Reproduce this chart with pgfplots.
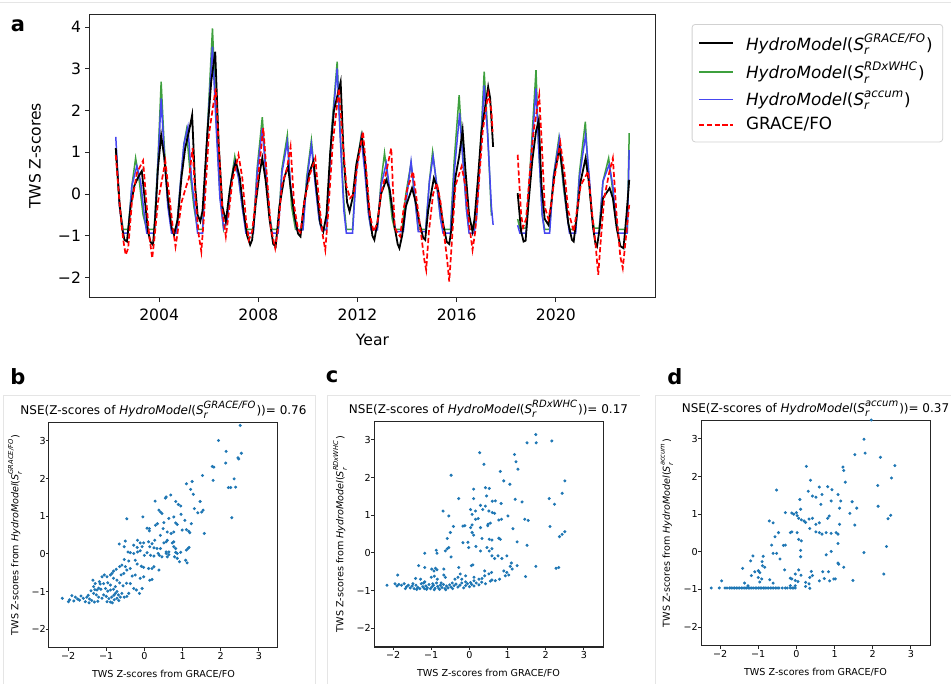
\documentclass[border=0pt]{standalone}
\usepackage{fontspec}
\setmainfont{DejaVu Sans}
\usepackage{pgfplots}
\pgfplotsset{compat=1.18}
\definecolor{mblack}{RGB}{0,0,0}
\definecolor{mgreen}{RGB}{62,160,62}
\definecolor{mblue}{RGB}{70,70,240}
\definecolor{mred}{RGB}{255,0,0}
\definecolor{c0}{RGB}{31,119,180}
\newcommand{\hm}[1]{\textit{HydroModel}(\textit{S}\rlap{\raisebox{-0.15em}{\textsubscript{\textit{r}}}}\raisebox{0.12em}{\textsuperscript{\textit{#1}}})}
\newcommand{\fs}[1]{\fontsize{#1}{#1}\selectfont}

\pgfplotsset{
  mpl/.style={scale only axis, anchor=north west,
    axis line style={black!85, line width=0.5pt},
    tick style={black!85, line width=0.45pt},
    tick align=outside, xtick pos=bottom, ytick pos=left},
  scat/.style={mpl, width=114.5pt, height=113pt,
    xmin=-2.5, xmax=3.5, ymin=-2.5, ymax=3.5,
    xtick={-2,-1,0,1,2,3}, xticklabels={−2,−1,0,1,2,3},
    ytick={-2,-1,0,1,2,3}, yticklabels={−2,−1,0,1,2,3},
    major tick length=1.6pt,
    ticklabel style={font=\fs{4.8}},
    xticklabel style={yshift=2.8pt},
    yticklabel style={xshift=3.5pt},
    label style={font=\fs{4.8}},
    xlabel={TWS Z-scores from GRACE/FO},
    xlabel style={at={(axis description cs:0.5,0)}, anchor=center, yshift=-13pt},
    ylabel style={at={(axis description cs:0,0.5)}, anchor=center, yshift=17pt},
    title style={font=\fs{6}, at={(axis description cs:0.5,1)}, anchor=base, yshift=-2.3pt}},
  dots/.style={only marks, mark=*, mark size=0.55pt, color=c0, mark options={draw=none, fill=c0}},
}

\begin{document}
\begin{tikzpicture}
\path[use as bounding box] (0,0) rectangle (475.5pt,-342pt);

% faint panel frames
\draw[black!10, line width=0.5pt] (0pt,-1.5pt) -- (475.5pt,-1.5pt);
\draw[black!10, line width=0.5pt] (1.5pt,-342pt) -- (1.5pt,-197.5pt) -- (157.5pt,-197.5pt) -- (157.5pt,-342pt);
\draw[black!10, line width=0.5pt] (163.5pt,-342pt) -- (163.5pt,-197.5pt) -- (320pt,-197.5pt);
\draw[black!10, line width=0.5pt] (327.5pt,-342pt) -- (327.5pt,-197.5pt) -- (475.5pt,-197.5pt);

% ---------------- panel a ----------------
\begin{axis}[mpl, at={(45pt,-7.5pt)}, width=282.5pt, height=141pt,
  xmin=2001.21, xmax=2024.0, ymin=-2.47, ymax=4.29,
  xtick={2004,2008,2012,2016,2020}, xticklabels={2004,2008,2012,2016,2020},
  ytick={-2,-1,0,1,2,3,4}, yticklabels={−2,−1,0,1,2,3,4},
  major tick length=2.5pt,
  ticklabel style={font=\fs{7.8}},
  yticklabel style={xshift=1.5pt},
  label style={font=\fs{7.8}},
  xlabel={Year}, ylabel={TWS Z-scores},
  xlabel style={at={(axis description cs:0.5,0)}, anchor=center, yshift=-21.5pt},
  ylabel style={at={(axis description cs:0,0.5)}, anchor=center, yshift=27.5pt},
  unbounded coords=jump,
  legend cell align=left,
  legend style={at={(1.065,0.968)}, anchor=north west, draw=black!18,
    rounded corners=1.5pt, font=\fs{8.4}, row sep=0.6pt, inner xsep=3pt, inner ysep=2.6pt},
]
\addlegendimage{mblack, line width=0.9pt}
\addlegendentry{\hspace*{4pt}\hm{GRACE/FO}}
\addlegendimage{mgreen, line width=0.75pt}
\addlegendentry{\hspace*{4pt}\hm{RDxWHC}}
\addlegendimage{mblue, line width=0.75pt}
\addlegendentry{\hspace*{4pt}\hm{accum}}
\addlegendimage{mred, line width=0.85pt, dash pattern=on 2.6pt off 1.3pt}
\addlegendentry{\hspace*{4pt}GRACE/FO}

% HydroModel(Sr^RDxWHC)
\addplot[mgreen, line width=0.75pt, forget plot] coordinates {
(2002.25,1.05) (2002.4,-0.3) (2002.55,-0.85) (2002.75,-0.85) (2002.9,0.2) (2003.05,0.86)
(2003.2,0.3) (2003.35,-0.5) (2003.5,-0.85) (2003.8,-0.85) (2003.95,0.8) (2004.08,2.69)
(2004.2,1.2) (2004.35,-0.2) (2004.5,-0.85) (2004.7,-0.85) (2004.85,0.2) (2005.0,1.2)
(2005.1,1.53) (2005.25,0.5) (2005.4,-0.3) (2005.55,-0.85) (2005.75,-0.85) (2005.9,1.0)
(2006.15,3.97) (2006.3,1.8) (2006.45,0.0) (2006.6,-0.85) (2006.75,-0.6) (2006.9,0.3)
(2007.05,0.90) (2007.2,0.4) (2007.35,-0.3) (2007.5,-0.85) (2007.8,-0.85) (2007.95,0.6)
(2008.16,1.84) (2008.3,0.6) (2008.45,-0.5) (2008.55,-0.85) (2008.8,-0.85) (2008.95,0.6)
(2009.17,1.41) (2009.34,-0.3) (2009.5,-0.85) (2009.8,-0.85) (2009.95,0.4) (2010.14,1.29)
(2010.3,0.3) (2010.45,-0.6) (2010.55,-0.85) (2010.75,-0.85) (2010.95,1.5) (2011.18,3.17)
(2011.3,1.5) (2011.45,-0.2) (2011.55,-0.85) (2011.8,-0.85) (2011.95,0.6) (2012.15,1.40)
(2012.3,0.6) (2012.45,-0.5) (2012.55,-0.85) (2012.8,-0.85) (2012.95,0.3) (2013.09,0.98)
(2013.25,0.2) (2013.4,-0.6) (2013.5,-0.85) (2013.8,-0.85) (2013.95,0.0) (2014.16,0.74)
(2014.3,0.0) (2014.45,-0.85) (2014.75,-0.85) (2014.9,0.3) (2015.03,1.01) (2015.2,0.2)
(2015.35,-0.6) (2015.45,-0.85) (2015.75,-0.85) (2015.9,0.8) (2016.1,2.37) (2016.25,0.9)
(2016.4,-0.4) (2016.5,-0.85) (2016.7,-0.85) (2016.8,-0.5) (2016.95,1.0) (2017.11,2.93)
(2017.25,1.5) (2017.4,-0.5) (2017.45,-0.5) (2017.9,nan)
(2018.46,-0.6) (2018.55,-0.82) (2018.8,-0.82) (2018.95,0.5) (2019.2,2.97) (2019.3,1.2)
(2019.45,-0.5) (2019.55,-0.85) (2019.75,-0.85) (2019.9,0.4) (2020.12,1.33) (2020.3,0.2)
(2020.45,-0.5) (2020.55,-0.85) (2020.8,-0.85) (2020.95,0.5) (2021.19,1.73) (2021.3,0.6)
(2021.45,-0.5) (2021.55,-0.82) (2021.75,-0.82) (2021.9,0.3) (2022.13,0.86) (2022.25,0.3)
(2022.4,-0.5) (2022.5,-0.85) (2022.88,-0.85) (2022.96,1.46)
};
% HydroModel(Sr^accum)
\addplot[mblue, line width=0.75pt, forget plot] coordinates {
(2002.25,1.37) (2002.4,-0.3) (2002.55,-0.94) (2002.75,-0.94) (2002.9,0.2) (2003.1,0.67)
(2003.25,0.3) (2003.4,-0.5) (2003.5,-0.94) (2003.8,-0.94) (2003.95,0.7) (2004.08,2.29)
(2004.2,1.0) (2004.35,-0.3) (2004.5,-0.94) (2004.7,-0.94) (2004.85,0.2) (2005.0,1.2)
(2005.16,1.61) (2005.3,0.4) (2005.45,-0.4) (2005.55,-0.94) (2005.75,-0.94) (2005.9,1.0)
(2006.15,3.53) (2006.3,1.6) (2006.45,-0.1) (2006.6,-0.82) (2006.75,-0.6) (2006.9,0.3)
(2007.05,0.75) (2007.2,0.4) (2007.35,-0.3) (2007.5,-0.94) (2007.8,-0.94) (2007.95,0.5)
(2008.16,1.58) (2008.3,0.5) (2008.45,-0.5) (2008.55,-0.94) (2008.8,-0.94) (2008.95,0.5)
(2009.17,1.25) (2009.3,0.2) (2009.45,-0.5) (2009.55,-0.86) (2009.8,-0.86) (2009.95,0.3)
(2010.14,1.17) (2010.3,0.2) (2010.45,-0.6) (2010.55,-0.86) (2010.75,-0.86) (2010.95,1.4)
(2011.18,3.01) (2011.3,1.4) (2011.45,-0.4) (2011.55,-0.94) (2011.8,-0.94) (2011.95,0.5)
(2012.15,1.35) (2012.3,0.5) (2012.45,-0.5) (2012.55,-0.86) (2012.8,-0.86) (2012.95,0.2)
(2013.16,0.74) (2013.3,0.1) (2013.45,-0.6) (2013.55,-0.9) (2013.85,-0.9) (2014.0,0.0)
(2014.16,0.78) (2014.3,0.0) (2014.45,-0.9) (2014.75,-0.9) (2014.9,0.3) (2015.05,0.9)
(2015.2,0.2) (2015.35,-0.6) (2015.45,-0.94) (2015.75,-0.94) (2015.9,0.5) (2016.12,1.94)
(2016.25,0.8) (2016.4,-0.4) (2016.5,-0.94) (2016.7,-0.94) (2016.8,-0.6) (2016.95,0.9)
(2017.11,2.6) (2017.25,1.4) (2017.4,-0.3) (2017.47,-0.74) (2017.9,nan)
(2018.46,-0.75) (2018.55,-0.94) (2018.8,-0.94) (2018.95,0.4) (2019.2,2.53) (2019.3,1.2)
(2019.45,-0.5) (2019.55,-0.94) (2019.75,-0.94) (2019.9,0.4) (2020.15,1.33) (2020.3,0.3)
(2020.45,-0.5) (2020.55,-0.94) (2020.8,-0.94) (2020.95,0.4) (2021.2,1.41) (2021.35,0.4)
(2021.45,-0.5) (2021.55,-0.94) (2021.75,-0.94) (2021.9,0.3) (2022.15,0.7) (2022.3,0.2)
(2022.4,-0.5) (2022.5,-0.94) (2022.88,-0.94) (2022.96,1.05)
};
% HydroModel(Sr^GRACE/FO)
\addplot[mblack, line width=0.9pt, forget plot] coordinates {
(2002.25,1.10) (2002.4,-0.2) (2002.5,-0.8) (2002.6,-1.1) (2002.7,-1.14) (2002.85,-0.3)
(2003.0,0.2) (2003.15,0.4) (2003.3,0.55) (2003.45,-0.3) (2003.55,-0.9) (2003.65,-1.15)
(2003.75,-1.22) (2003.85,-0.5) (2003.95,0.6) (2004.08,1.41) (2004.2,0.9) (2004.35,-0.1)
(2004.5,-0.8) (2004.6,-0.98) (2004.75,-0.6) (2004.9,0.4) (2005.05,1.1) (2005.2,1.5)
(2005.33,1.89) (2005.45,0.2) (2005.55,-0.5) (2005.66,-0.66) (2005.75,-0.4) (2005.95,1.5)
(2006.1,2.7) (2006.26,3.41) (2006.4,1.2) (2006.55,-0.3) (2006.69,-0.66) (2006.85,0.1)
(2007.0,0.6) (2007.09,0.78) (2007.25,0.4) (2007.4,-0.4) (2007.55,-1.0) (2007.67,-1.22)
(2007.75,-1.1) (2007.9,-0.2) (2008.05,0.5) (2008.16,0.86) (2008.3,0.3) (2008.45,-0.6)
(2008.6,-1.2) (2008.7,-1.26) (2008.85,-0.3) (2009.05,0.4) (2009.2,0.66) (2009.3,0.14)
(2009.45,-0.5) (2009.6,-0.95) (2009.7,-1.02) (2009.85,-0.2) (2010.05,0.5) (2010.22,0.78)
(2010.35,0.1) (2010.5,-0.7) (2010.62,-0.9) (2010.75,-0.5) (2010.9,1.0) (2011.05,2.0)
(2011.32,2.69) (2011.45,0.8) (2011.58,-0.2) (2011.68,-0.42) (2011.8,-0.1) (2011.95,0.7)
(2012.18,1.39) (2012.3,0.8) (2012.45,-0.3) (2012.6,-1.0) (2012.68,-1.1) (2012.8,-0.7)
(2012.95,0.0) (2013.16,0.34) (2013.3,0.1) (2013.5,-0.8) (2013.62,-1.2) (2013.69,-1.3)
(2013.8,-1.0) (2013.95,-0.3) (2014.2,0.14) (2014.35,-0.2) (2014.5,-0.7) (2014.65,-1.05)
(2014.73,-1.1) (2014.85,-0.4) (2015.08,0.38) (2015.25,0.1) (2015.45,-0.7) (2015.6,-1.15)
(2015.7,-1.2) (2015.8,-0.8) (2015.95,0.4) (2016.1,0.9) (2016.24,1.53) (2016.35,0.6)
(2016.5,-0.5) (2016.64,-0.9) (2016.72,-0.6) (2016.85,0.3) (2017.0,1.5) (2017.27,2.57)
(2017.35,2.3) (2017.47,1.13) (2017.9,nan)
(2018.46,0.02) (2018.6,-0.9) (2018.7,-1.14) (2018.78,-1.12) (2018.9,-0.2) (2019.05,0.8)
(2019.2,1.5) (2019.31,1.77) (2019.42,0.2) (2019.55,-0.6) (2019.7,-0.74) (2019.8,-0.3)
(2019.95,0.5) (2020.15,1.1) (2020.3,0.4) (2020.5,-0.7) (2020.65,-1.1) (2020.72,-1.14)
(2020.85,-0.5) (2021.0,0.3) (2021.2,0.86) (2021.35,0.2) (2021.5,-0.8) (2021.6,-1.2)
(2021.66,-1.26) (2021.75,-0.9) (2021.9,-0.1) (2022.17,0.14) (2022.3,-0.1) (2022.45,-0.8)
(2022.6,-1.25) (2022.73,-1.3) (2022.85,-0.5) (2022.96,0.34)
};
% GRACE/FO
\addplot[mred, line width=0.85pt, dash pattern=on 2.6pt off 1.3pt, forget plot] coordinates {
(2002.25,0.93) (2002.4,-0.2) (2002.55,-1.1) (2002.65,-1.46) (2002.75,-1.3) (2002.9,-0.2)
(2003.1,0.5) (2003.35,0.80) (2003.5,-0.3) (2003.6,-1.0) (2003.72,-1.54) (2003.82,-1.0)
(2003.95,-0.2) (2004.1,0.3) (2004.25,0.78) (2004.4,0.0) (2004.55,-0.8) (2004.66,-1.26)
(2004.75,-0.9) (2004.9,-0.2) (2005.1,0.2) (2005.2,0.38) (2005.35,1.1) (2005.45,0.0)
(2005.6,-1.0) (2005.7,-1.38) (2005.8,-0.6) (2006.0,1.4) (2006.28,2.53) (2006.4,1.2)
(2006.55,-0.4) (2006.69,-1.02) (2006.8,-0.5) (2006.95,0.3) (2007.2,0.94) (2007.35,0.4)
(2007.5,-0.6) (2007.62,-1.1) (2007.75,-0.9) (2007.9,-0.1) (2008.2,1.58) (2008.35,0.4)
(2008.5,-0.8) (2008.68,-1.3) (2008.8,-0.8) (2008.95,0.2) (2009.15,0.6) (2009.3,1.13)
(2009.45,-0.3) (2009.6,-0.85) (2009.7,-0.92) (2009.85,-0.2) (2010.1,0.5) (2010.3,0.86)
(2010.45,-0.2) (2010.6,-1.0) (2010.7,-1.34) (2010.8,-0.6) (2011.0,1.2) (2011.25,2.53)
(2011.4,1.3) (2011.55,0.2) (2011.7,-0.1) (2011.85,0.0) (2012.0,0.7) (2012.22,1.5)
(2012.35,0.6) (2012.5,-0.5) (2012.65,-0.9) (2012.8,-0.7) (2012.95,0.0) (2013.15,0.5)
(2013.36,1.1) (2013.5,-0.8) (2013.62,-0.95) (2013.72,-1.02) (2013.85,-0.4) (2014.0,0.1)
(2014.24,0.54) (2014.4,-0.2) (2014.55,-0.9) (2014.7,-1.6) (2014.77,-1.82) (2014.88,-0.9)
(2015.05,0.0) (2015.2,0.26) (2015.35,-0.2) (2015.5,-1.0) (2015.62,-1.6) (2015.7,-2.1)
(2015.8,-1.2) (2015.95,0.2) (2016.2,0.66) (2016.35,0.2) (2016.5,-0.7) (2016.64,-1.34)
(2016.75,-0.9) (2016.9,0.3) (2017.05,1.5) (2017.27,2.41) (2017.4,2.0) (2017.45,1.49)
(2017.9,nan)
(2018.46,0.94) (2018.6,-0.5) (2018.68,-0.8) (2018.8,-0.6) (2018.95,0.5) (2019.1,1.5)
(2019.33,2.37) (2019.45,1.0) (2019.55,-0.3) (2019.7,-0.6) (2019.8,-0.3) (2019.95,0.4)
(2020.18,1.22) (2020.35,0.5) (2020.5,-0.4) (2020.72,-0.9) (2020.85,-0.4) (2021.0,0.2)
(2021.3,0.54) (2021.45,-0.4) (2021.6,-1.2) (2021.71,-1.94) (2021.8,-1.2) (2021.95,-0.1)
(2022.15,0.5) (2022.3,0.86) (2022.45,-0.5) (2022.6,-1.5) (2022.7,-1.78) (2022.8,-1.2)
(2022.96,-0.26)
};
\end{axis}

% ---------------- panel b ----------------
\begin{axis}[scat, at={(24.5pt,-211pt)},
  title={NSE(Z-scores of \hm{GRACE/FO})= 0.76},
  ylabel={TWS Z-scores from \hm{GRACE/FO}}]
\addplot[dots] coordinates {
(2.51,3.41) (1.94,3.01) (2.14,2.72) (2.54,2.67) (2.45,2.55) (2.47,2.52) (2.13,2.41) (1.78,2.32)
(1.82,2.30) (2.35,1.99) (1.52,2.08) (1.80,1.95) (1.25,1.92) (1.10,1.86) (1.21,1.71) (2.39,1.77)
(2.20,1.76) (2.26,1.76) (1.28,1.58) (0.69,1.56) (0.57,1.51) (0.55,1.48) (0.28,1.40) (0.82,1.39)
(1.46,1.39) (0.89,1.31) (0.95,1.27) (1.31,1.20) (1.54,1.16) (1.50,1.11) (1.40,1.09) (0.38,1.16)
(0.42,1.11) (0.46,1.07) (0.96,1.05) (-0.46,0.93) (-0.04,0.98) (2.29,0.96) (0.64,0.94) (0.77,0.98)
(0.34,0.80) (0.51,0.83) (0.82,0.82) (0.86,0.78) (1.06,0.89) (1.23,0.80) (0.99,0.63) (1.10,0.64)
(1.16,0.60) (1.19,0.56) (1.57,0.54) (0.29,0.76) (0.07,0.68) (0.13,0.67) (0.13,0.61) (0.49,0.67)
(0.60,0.58) (0.70,0.54) (0.77,0.58) (0.42,0.49) (0.27,0.36) (-0.18,0.36) (-0.11,0.29) (-0.02,0.29)
(0.11,0.32) (0.20,0.27) (0.51,0.29) (0.57,0.32) (0.60,0.36) (0.73,0.29) (0.77,0.32) (-0.50,0.34)
(-0.66,0.26) (-0.28,0.23) (-0.19,0.17) (-0.06,0.19) (0.14,0.19) (0.25,0.16) (0.33,0.14) (0.42,0.14)
(0.77,0.19) (0.82,0.14) (0.57,0.05) (0.64,0.05) (1.10,0.10) (1.14,0.14) (1.17,0.17) (0.82,0.04)
(0.86,0.01) (0.95,0.04) (-0.53,0.19) (-0.43,0.05) (-0.37,0.03) (-0.28,0.01) (-0.18,0.05) (-0.11,0.08)
(0.00,-0.04) (0.07,0.03) (0.16,-0.04) (0.25,-0.06) (0.36,0.01) (0.39,-0.04) (0.46,-0.08) (0.57,0.01)
(0.60,-0.08) (0.64,-0.02) (0.79,-0.08) (0.86,-0.12) (1.08,-0.17) (1.12,-0.24) (0.92,-0.21) (-0.53,-0.15)
(-0.41,-0.19) (-0.24,-0.17) (-0.19,-0.27) (-0.65,-0.34) (-0.59,-0.30) (-0.50,-0.34) (-0.46,-0.43)
(-0.37,-0.39) (-0.08,-0.33) (-0.02,-0.36) (0.11,-0.39) (0.20,-0.39) (0.25,-0.34) (0.38,-0.43)
(-0.81,-0.46) (-0.74,-0.41) (-0.61,-0.56) (-0.54,-0.52) (-0.32,-0.59) (-0.24,-0.56) (-0.11,-0.65)
(-0.02,-0.61) (0.14,-0.70) (0.20,-0.68) (-0.81,-0.65) (-0.72,-0.70) (-1.11,-0.61) (-1.05,-0.56)
(-0.98,-0.61) (-0.89,-0.56) (-0.85,-0.52) (-1.35,-0.70) (-1.29,-0.79) (-1.18,-0.74) (-1.16,-0.80)
(-1.07,-0.79) (-0.96,-0.77) (-0.89,-0.83) (-0.76,-0.87) (-0.65,-0.77) (-0.56,-0.85) (-0.47,-0.78)
(-0.37,-0.79) (-0.28,-0.92) (-0.21,-0.96) (-0.06,-0.92) (-1.33,-0.87) (-1.24,-0.96) (-1.20,-0.91)
(-1.14,-0.94) (-1.02,-0.92) (-0.96,-0.99) (-0.89,-0.96) (-0.81,-0.94) (-0.76,-1.05) (-0.72,-1.00)
(-0.68,-1.09) (-0.59,-1.05) (-0.53,-1.15) (-0.46,-1.13) (-0.41,-1.05) (-0.13,-1.05) (-1.33,-1.05)
(-1.26,-1.09) (-1.20,-1.15) (-1.11,-1.18) (-1.07,-1.09) (-1.00,-1.13) (-0.93,-1.19) (-0.86,-1.15)
(-0.79,-1.22) (-0.72,-1.18) (-0.67,-1.24) (-0.63,-1.15) (-0.89,-1.28) (-0.98,-1.27) (-1.51,-1.15)
(-1.44,-1.20) (-1.38,-1.24) (-1.31,-1.28) (-1.66,-1.12) (-1.60,-1.18) (-1.70,-1.23) (-1.81,-1.15)
(-1.75,-1.20) (-1.90,-1.11) (-1.96,-1.22) (-2.15,-1.18) (-1.99,-1.27) (-1.85,-1.25) (-1.55,-1.27)
(-1.45,-1.30) (-1.22,-1.26) (-0.84,-1.30) (-0.80,-1.10) (-1.30,-0.95) (-1.40,-0.98) (-1.47,-1.10)
};
\end{axis}

% ---------------- panel c ----------------
\begin{axis}[scat, at={(187pt,-210.5pt)},
  title={NSE(Z-scores of \hm{RDxWHC})= 0.17},
  ylabel={TWS Z-scores from \hm{RDxWHC}}]
\addplot[dots] coordinates {
(1.74,3.14) (1.51,2.92) (1.75,2.92) (2.16,2.97) (0.27,2.66) (1.18,2.61) (1.22,2.42) (0.38,2.35)
(1.27,2.22) (0.81,2.16) (-0.48,2.06) (0.90,1.91) (1.06,1.82) (2.50,1.91) (0.42,1.73) (0.52,1.71)
(0.11,1.69) (2.43,1.58) (0.45,1.51) (0.11,1.44) (-0.28,1.44) (1.20,1.42) (1.38,1.35) (2.09,1.44)
(0.60,1.37) (0.68,1.38) (0.83,1.31) (0.29,1.26) (0.42,1.24) (2.23,1.29) (0.03,1.15) (0.16,1.11)
(0.35,1.15) (0.51,1.11) (0.60,1.07) (0.66,1.05) (-0.69,1.11) (1.01,0.98) (-0.54,0.98) (0.07,1.02)
(0.23,0.91) (0.16,0.89) (0.84,0.89) (0.77,0.87) (1.45,0.89) (1.54,0.86) (0.49,0.76) (0.55,0.79)
(0.48,0.72) (-0.42,0.70) (-0.17,0.71) (-0.12,0.72) (0.03,0.67) (0.07,0.74) (0.29,0.67) (2.11,0.70)
(1.14,0.64) (-0.50,0.54) (0.07,0.54) (0.11,0.47) (2.50,0.56) (2.43,0.49) (2.36,0.43) (-0.58,0.38)
(0.33,0.38) (0.52,0.36) (0.59,0.34) (0.77,0.39) (0.81,0.36) (1.25,0.29) (-0.17,0.27) (-0.04,0.28)
(-0.58,0.11) (-0.54,0.14) (-0.63,0.05) (0.17,0.17) (0.29,0.05) (0.46,0.14) (0.52,0.05) (0.59,0.11)
(-0.02,0.14) (-0.87,0.07) (-0.85,-0.01) (-1.17,-0.01) (1.51,0.20) (-0.48,-0.11) (0.59,-0.08)
(0.66,-0.15) (0.75,-0.08) (0.85,-0.15) (0.98,-0.08) (1.10,-0.27) (0.05,-0.34) (0.09,-0.32)
(-1.33,-0.34) (-1.17,-0.39) (-0.99,-0.43) (-0.93,-0.48) (-0.89,-0.41) (-0.67,-0.43) (-0.28,-0.39)
(1.25,-0.34) (1.07,-0.36) (1.12,-0.43) (1.74,-0.36) (2.27,-0.41) (2.34,-0.39) (1.47,-0.63)
(0.40,-0.48) (0.51,-0.56) (0.58,-0.52) (-0.24,-0.56) (-0.10,-0.61) (0.90,-0.48) (0.98,-0.52)
(0.94,-0.61) (1.03,-0.59) (0.12,-0.65) (0.25,-0.70) (0.33,-0.68) (0.40,-0.61) (-0.67,-0.59)
(-0.63,-0.65) (-1.41,-0.68) (-1.28,-0.70) (-1.17,-0.77) (-1.88,-0.59) (0.79,-0.70) (0.68,-0.74)
(0.59,-0.72) (-0.10,-0.77) (0.03,-0.79) (0.12,-0.74)
(-2.16,-0.86) (-1.95,-0.82) (-1.78,-0.86) (-1.71,-0.82) (-1.65,-0.90) (-1.60,-0.86) (-1.55,-0.93)
(-1.50,-0.88) (-1.45,-0.95) (-1.40,-0.86) (-1.35,-0.92) (-1.30,-0.95) (-1.26,-0.82) (-1.22,-0.90)
(-1.18,-0.95) (-1.14,-0.88) (-1.10,-0.93) (-1.06,-0.84) (-1.02,-0.95) (-0.98,-0.90) (-0.94,-0.86)
(-0.90,-0.94) (-0.86,-0.80) (-0.83,-0.89) (-0.80,-0.95) (-0.76,-0.86) (-0.72,-0.92) (-0.68,-0.84)
(-0.64,-0.95) (-0.60,-0.88) (-0.56,-0.93) (-0.52,-0.85) (-0.48,-0.91) (-0.44,-0.95) (-0.40,-0.87)
(-0.35,-0.83) (-0.30,-0.91) (-0.25,-0.86) (-0.20,-0.80) (-0.15,-0.93) (-0.10,-0.87) (-0.05,-0.82)
(0.00,-0.90) (0.06,-0.84) (0.12,-0.88) (0.18,-0.80) (0.25,-0.85) (0.32,-0.78) (0.42,-0.82)
(0.55,-0.75) (-1.90,-0.88) (-1.85,-0.84) (-1.68,-0.95) (-1.38,-0.97) (-1.12,-0.97) (-0.92,-0.98)
(-0.78,-0.97) (-0.62,-0.98) (-1.48,-0.82) (-1.20,-0.80) (-0.96,-0.82) (-0.74,-0.80) (-0.45,-0.80)
(-1.00,-0.65) (-0.84,-0.70) (-0.92,-0.62) (-0.85,-0.45) (-0.38,-0.70) (-0.30,-0.65) (-0.20,-0.70)
};
\end{axis}

% ---------------- panel d ----------------
\begin{axis}[scat, at={(350.5pt,-210pt)},
  title={NSE(Z-scores of \hm{accum})= 0.37},
  ylabel={TWS Z-scores from \hm{accum}}]
\addplot[dots] coordinates {
(1.96,3.50) (1.77,2.99) (1.80,2.62) (1.53,2.58) (2.20,2.51) (0.26,2.27) (1.22,2.25) (1.24,2.16)
(2.58,2.29) (0.37,1.90) (2.49,1.96) (0.82,1.73) (0.60,1.72) (1.28,1.85) (-0.52,1.64) (0.31,1.61)
(0.93,1.65) (1.09,1.52) (0.42,1.48) (0.51,1.45) (0.67,1.52) (2.13,1.76) (0.09,1.39) (0.64,1.26)
(0.91,1.35) (1.16,1.35) (1.46,1.33) (1.13,1.16) (1.58,1.16) (2.14,1.21) (0.11,1.13) (0.00,1.04)
(-0.12,1.03) (1.40,1.02) (-0.29,1.04) (-0.07,1.00) (0.02,0.96) (0.06,0.89) (0.13,0.85) (0.20,0.82)
(0.24,0.78) (0.33,0.87) (0.42,0.89) (0.86,0.95) (0.82,0.89) (2.47,0.97) (2.40,0.88) (-0.71,0.82)
(-0.61,0.77) (0.60,0.77) (0.51,0.73) (1.13,0.73) (1.53,0.71) (-0.16,0.51) (-0.12,0.53) (0.02,0.51)
(-0.47,0.51) (0.35,0.62) (0.51,0.53) (0.60,0.51) (0.67,0.47) (0.78,0.51) (0.91,0.49) (1.04,0.51)
(1.09,0.47) (-0.56,0.40) (0.06,0.33) (0.13,0.29) (-0.29,0.18) (-0.34,0.17) (-0.65,0.18) (0.11,0.04)
(1.09,0.22) (-0.61,-0.04) (-0.52,-0.04) (0.91,0.01) (1.77,-0.02) (2.36,0.14) (-1.14,-0.11)
(-0.87,-0.12) (-0.43,-0.19) (0.11,-0.13) (0.78,-0.08) (-1.20,-0.24) (-0.90,-0.26) (1.09,-0.30)
(1.11,-0.33) (-0.89,-0.37) (-0.83,-0.41) (1.24,-0.41) (-1.41,-0.44) (-0.31,-0.48) (0.06,-0.48)
(-1.09,-0.53) (-1.00,-0.50) (-0.96,-0.55) (0.69,-0.53) (0.84,-0.53) (0.39,-0.52) (0.35,-0.68)
(0.42,-0.63) (-0.03,-0.59) (0.12,-0.62) (1.48,-0.76) (1.02,-0.72) (2.29,-0.59) (-1.18,-0.63)
(-1.00,-0.68) (-0.91,-0.72) (-0.16,-0.70) (-0.12,-0.72) (-0.03,-0.76) (0.04,-0.79) (-1.36,-0.83)
(-1.27,-0.90) (-0.96,-0.80) (-0.70,-0.74) (-0.61,-0.83) (-1.96,-0.77) (0.60,-0.77) (0.73,-0.71)
(0.87,-0.77) (0.98,-0.72) (0.24,-0.81) (0.33,-0.85) (-0.16,-0.90) (-0.03,-0.90) (0.24,-0.92)
(0.35,-0.97)
(-2.23,-0.96) (-2.02,-0.96) (-1.87,-0.96) (-1.82,-0.96) (-1.75,-0.96) (-1.71,-0.96) (-1.66,-0.96)
(-1.62,-0.96) (-1.57,-0.96) (-1.53,-0.96) (-1.49,-0.96) (-1.44,-0.96) (-1.40,-0.96) (-1.35,-0.96)
(-1.31,-0.96) (-1.26,-0.96) (-1.22,-0.96) (-1.17,-0.96) (-1.13,-0.96) (-1.08,-0.96) (-1.04,-0.96)
(-0.99,-0.96) (-0.95,-0.96) (-0.91,-0.96) (-0.86,-0.96) (-0.82,-0.96) (-0.77,-0.96) (-0.73,-0.96)
(-0.68,-0.96) (-0.64,-0.96) (-0.60,-0.96) (-0.55,-0.96) (-0.51,-0.96) (-0.46,-0.96) (-0.37,-0.96)
(-0.29,-0.96) (-0.24,-0.96) (-0.16,-0.96) (-0.11,-0.96) (-0.07,-0.96) (-0.03,-0.96)
};
\end{axis}

% panel letters
\node[font=\bfseries\fs{10.5}] at (9pt,-13pt) {a};
\node[font=\bfseries\fs{10.5}] at (9pt,-188.5pt) {b};
\node[font=\bfseries\fs{10.5}] at (166pt,-188.5pt) {c};
\node[font=\bfseries\fs{10.5}] at (337.5pt,-188.5pt) {d};
\end{tikzpicture}
\end{document}
